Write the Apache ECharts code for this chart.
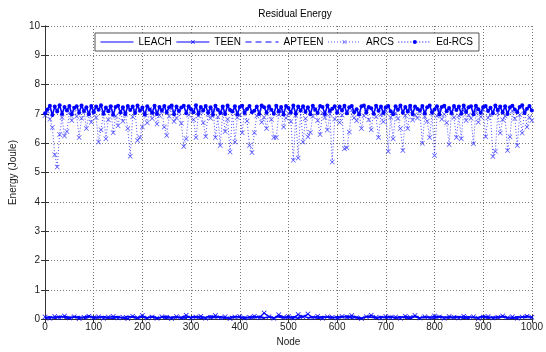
<!DOCTYPE html>
<html><head><meta charset="utf-8">
<script src="https://cdn.jsdelivr.net/npm/echarts@6/dist/echarts.min.js"></script>
<style>html,body{margin:0;padding:0;background:#fff}#c{width:546px;height:352px}</style>
</head><body><div id="c"></div>
<script>
var xTicks = [0,100,200,300,400,500,600,700,800,900,1000];
var yTicks = [0,1,2,3,4,5,6,7,8,9,10];
var seriesNames = ['LEACH','TEEN','APTEEN','ARCS','Ed-RCS'];
var lowStep = 10;   // nodes between samples of the low-energy series
var highStep = 5;   // nodes between samples of ARCS / Ed-RCS

var leach = [
0.05,0.08,0.03,0.10,0.06,0.02,0.09,0.04,0.07,0.11,
0.03,0.06,0.09,0.05,0.02,0.08,0.04,0.10,0.06,0.03,
0.07,0.05,0.09,0.02,0.06,0.10,0.04,0.08,0.03,0.07,
0.05,0.09,0.02,0.06,0.11,0.04,0.08,0.05,0.03,0.09,
0.06,0.02,0.08,0.04,0.10,0.05,0.07,0.03,0.09,0.06,
0.04,0.08,0.02,0.10,0.05,0.07,0.03,0.09,0.06,0.04,
0.08,0.05,0.11,0.03,0.07,0.02,0.09,0.06,0.04,0.08,
0.05,0.10,0.03,0.07,0.06,0.02,0.09,0.04,0.08,0.05,
0.03,0.10,0.06,0.07,0.04,0.09,0.02,0.08,0.05,0.06,
0.10,0.03,0.07,0.04,0.09,0.05,0.02,0.08,0.06,0.11,
0.04];
var teen = [
0.07,0.03,0.09,0.05,0.11,0.04,0.08,0.02,0.06,0.10,
0.05,0.08,0.03,0.07,0.09,0.04,0.06,0.02,0.10,0.05,
0.12,0.04,0.07,0.03,0.08,0.06,0.02,0.09,0.05,0.13,
0.04,0.07,0.10,0.03,0.06,0.12,0.05,0.08,0.02,0.07,
0.09,0.04,0.06,0.10,0.05,0.21,0.08,0.03,0.15,0.06,
0.09,0.04,0.16,0.07,0.17,0.05,0.10,0.03,0.08,0.06,
0.04,0.09,0.07,0.12,0.05,0.02,0.08,0.13,0.06,0.04,
0.09,0.05,0.07,0.03,0.10,0.06,0.12,0.04,0.08,0.05,
0.11,0.07,0.03,0.09,0.06,0.04,0.10,0.05,0.08,0.02,
0.07,0.09,0.04,0.06,0.11,0.05,0.08,0.03,0.07,0.10,
0.06];
var apteen = [
0.02,0.06,0.04,0.08,0.03,0.07,0.05,0.09,0.02,0.06,
0.08,0.04,0.07,0.03,0.06,0.09,0.05,0.02,0.08,0.04,
0.06,0.03,0.09,0.05,0.07,0.02,0.08,0.04,0.06,0.03,
0.09,0.05,0.07,0.04,0.02,0.08,0.06,0.03,0.09,0.05,
0.04,0.07,0.02,0.08,0.06,0.03,0.09,0.05,0.07,0.04,
0.08,0.02,0.06,0.09,0.04,0.07,0.03,0.05,0.08,0.06,
0.02,0.09,0.04,0.07,0.05,0.03,0.08,0.06,0.02,0.09,
0.04,0.07,0.05,0.08,0.03,0.06,0.09,0.02,0.05,0.07,
0.04,0.08,0.06,0.03,0.09,0.05,0.07,0.02,0.06,0.04,
0.08,0.05,0.03,0.09,0.07,0.04,0.06,0.02,0.08,0.05,
0.03];
var arcs = [
6.95,7.10,6.82,6.54,5.61,5.19,6.30,6.88,6.25,6.40,
7.05,6.78,7.18,6.92,6.20,6.85,7.12,6.50,6.97,6.72,
7.15,6.88,6.04,6.46,7.02,6.15,6.80,7.20,6.36,6.93,
6.60,7.08,6.75,6.99,6.50,5.56,6.90,7.14,6.09,6.20,
6.55,6.98,6.70,7.16,6.84,7.04,6.66,6.95,7.10,6.55,
6.26,6.92,7.18,6.74,6.86,7.06,6.68,5.89,6.15,6.96,
7.12,6.80,6.20,6.94,7.08,6.70,6.23,6.99,6.85,7.15,
6.20,6.90,5.92,7.05,6.40,6.82,5.70,7.10,6.04,6.88,
6.97,6.36,7.14,6.76,5.92,5.68,6.36,6.93,7.06,6.72,
6.89,6.50,7.17,6.81,6.20,6.20,6.98,7.09,6.55,6.86,
7.02,6.74,5.42,6.95,5.50,7.12,6.04,6.84,6.22,6.37,
6.92,7.16,6.78,6.30,7.04,6.88,6.45,6.99,5.36,6.83,
7.10,6.71,6.96,5.81,5.85,6.38,7.13,6.87,6.77,7.01,
6.50,6.94,7.18,6.80,6.46,7.07,6.90,6.20,6.98,6.73,
7.11,5.72,6.89,6.15,7.03,6.84,6.50,5.75,6.95,6.50,
7.14,6.79,6.97,6.86,7.08,6.00,6.91,6.75,6.20,7.02,
5.58,6.93,7.17,6.82,6.99,6.70,5.96,7.06,6.88,6.20,
6.94,6.15,7.12,6.78,6.96,6.85,5.98,7.09,6.72,6.90,
7.15,6.22,6.87,6.98,5.55,5.73,7.04,6.35,6.80,6.93,
5.75,6.22,7.10,6.84,5.92,6.97,6.35,7.13,6.55,6.89,
6.78];
var edrcs = [
7.02,7.15,7.28,6.96,7.25,7.08,7.30,7.00,7.24,7.12,
7.27,6.98,7.21,7.26,7.04,7.29,7.10,7.23,6.99,7.27,
7.06,7.25,7.14,7.30,7.01,7.22,7.09,7.26,6.97,7.24,
7.28,7.05,7.23,7.00,7.27,7.13,7.25,7.03,7.29,7.11,
7.22,6.98,7.26,7.15,7.04,7.28,7.00,7.24,7.12,7.27,
7.05,7.23,7.29,6.99,7.25,7.10,7.22,7.28,7.02,7.26,
7.16,7.06,7.30,7.00,7.24,7.12,7.27,7.04,7.23,6.97,
7.28,7.14,7.03,7.25,7.00,7.29,7.13,7.08,7.26,6.99,
7.24,7.28,7.03,7.17,7.27,7.06,7.11,7.25,7.00,7.29,
7.23,7.04,7.26,7.14,7.01,7.28,7.09,7.24,6.98,7.27,
7.20,7.05,7.29,7.01,7.25,7.12,7.26,7.07,7.23,6.99,
7.28,7.15,7.03,7.27,7.24,7.00,7.29,7.10,7.18,7.26,
7.04,7.25,7.12,7.28,7.02,7.23,7.27,7.06,7.16,6.98,
7.26,7.29,7.05,7.24,7.19,7.01,7.28,7.11,7.25,7.03,
7.23,7.27,7.09,6.99,7.26,7.14,7.29,7.04,7.24,7.08,
7.28,7.00,7.25,7.17,7.12,7.27,7.02,7.23,7.29,7.05,
7.15,7.26,6.98,7.24,7.28,7.09,7.20,7.03,7.27,7.13,
7.25,7.01,7.29,7.07,7.23,7.26,6.99,7.28,7.16,7.04,
7.24,7.27,7.10,7.21,7.02,7.29,7.13,7.25,7.05,7.26,
7.00,7.23,7.28,7.15,7.06,7.24,7.30,7.03,7.18,7.27,
7.12];

function pairs(vals, step){ return vals.map(function(v,i){ return [i*step, v]; }); }

var BLUE = '#0000ff';
var XMARK = 'path://M0,1L1,0L5,4L9,0L10,1L6,5L10,9L9,10L5,6L1,10L0,9L4,5Z';
var FONT = 'Liberation Sans, Arial, sans-serif';

var chart = echarts.init(document.getElementById('c'), null, {renderer:'canvas'});
chart.setOption({
  animation:false,
  backgroundColor:'#fff',
  textStyle:{fontFamily:FONT},
  title:{text:'Residual Energy', left:290, top:4, textAlign:'center',
    textStyle:{fontSize:10, fontWeight:'normal', color:'#000', fontFamily:FONT}},
  legend:{
    left:95, top:33, padding:[4,6,4,5], itemGap:4, itemWidth:33, itemHeight:5,
    backgroundColor:'#fff', borderColor:'#555', borderWidth:1,
    textStyle:{fontSize:10, color:'#000', fontFamily:FONT},
    data:[
      {name:seriesNames[0], itemStyle:{opacity:0}, lineStyle:{type:'solid', width:1}},
      {name:seriesNames[1], lineStyle:{type:'solid', width:1}},
      {name:seriesNames[2], itemStyle:{opacity:0}, lineStyle:{type:[6,4], width:1}},
      {name:seriesNames[3], lineStyle:{type:[1,2], width:1}},
      {name:seriesNames[4], lineStyle:{type:[1,2], width:1}}
    ]
  },
  grid:{left:42, right:9, top:26, bottom:30, containLabel:false},
  xAxis:[{
    type:'value', min:xTicks[0], max:xTicks[xTicks.length-1], interval:100,
    name:'Node', nameLocation:'middle', nameGap:17,
    nameTextStyle:{fontSize:10, color:'#222', fontFamily:FONT},
    axisLine:{show:true, lineStyle:{color:'#333', width:1}},
    axisTick:{show:true, inside:true, length:4, lineStyle:{color:'#333'}},
    axisLabel:{fontSize:10, color:'#222', margin:3, fontFamily:FONT,
      formatter:function(v){ return String(v); }},
    splitLine:{show:true, lineStyle:{color:'#777', type:[1,2], width:1}}
  },{
    type:'value', position:'top', min:xTicks[0], max:xTicks[xTicks.length-1], interval:100,
    axisLine:{show:true, lineStyle:{color:'#333', width:1}},
    axisTick:{show:true, inside:true, length:4, lineStyle:{color:'#333'}},
    axisLabel:{show:false}, splitLine:{show:false}
  }],
  yAxis:[{
    type:'value', min:yTicks[0], max:yTicks[yTicks.length-1], interval:1,
    name:'Energy (Joule)', nameLocation:'middle', nameGap:25, nameRotate:90,
    nameTextStyle:{fontSize:10, color:'#222', fontFamily:FONT},
    axisLine:{show:true, lineStyle:{color:'#333', width:1}},
    axisTick:{show:true, inside:true, length:4, lineStyle:{color:'#333'}},
    axisLabel:{fontSize:10, color:'#222', margin:5, fontFamily:FONT},
    splitLine:{show:true, lineStyle:{color:'#777', type:[1,2], width:1}}
  },{
    type:'value', position:'right', min:yTicks[0], max:yTicks[yTicks.length-1], interval:1,
    axisLine:{show:true, lineStyle:{color:'#333', width:1}},
    axisTick:{show:true, inside:true, length:4, lineStyle:{color:'#333'}},
    axisLabel:{show:false}, splitLine:{show:false}
  }],
  series:[
    {name:seriesNames[0], type:'line', data:pairs(leach, lowStep), symbol:'none',
      color:BLUE, lineStyle:{color:BLUE, width:1.5, type:'solid'}},
    {name:seriesNames[1], type:'line', data:pairs(teen, lowStep), symbol:XMARK, symbolSize:5,
      color:BLUE, itemStyle:{color:BLUE}, lineStyle:{color:BLUE, width:1.2, type:'solid'}},
    {name:seriesNames[2], type:'line', data:pairs(apteen, lowStep), symbol:'none',
      color:BLUE, lineStyle:{color:BLUE, width:1.5, type:[6,4]}},
    {name:seriesNames[3], type:'line', data:pairs(arcs, highStep), symbol:XMARK, symbolSize:5,
      color:BLUE, itemStyle:{color:'#3333ff', opacity:0.85}, lineStyle:{color:BLUE, width:1, type:[1,2], opacity:0.7}},
    {name:seriesNames[4], type:'line', data:pairs(edrcs, highStep), symbol:'circle', symbolSize:4,
      color:BLUE, itemStyle:{color:BLUE}, lineStyle:{color:BLUE, width:1.6, type:'solid'}}
  ]
});
</script></body></html>
